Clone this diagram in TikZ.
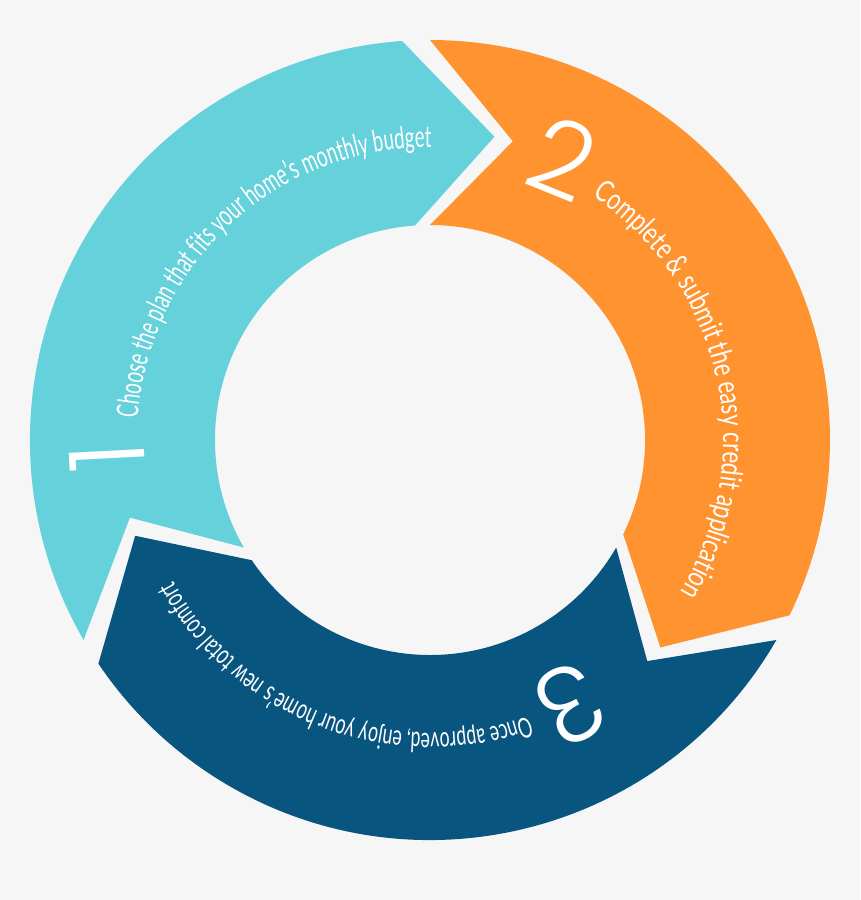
\documentclass[tikz,border=0pt]{standalone}
\usepackage{fontspec}
\usetikzlibrary{decorations.text}
\newfontfamily\bandA{Lato}[FakeStretch=0.62]
\newfontfamily\bandB{Lato}[FakeStretch=0.74]
\newfontfamily\bandC{Lato}[FakeStretch=0.63]
\newfontfamily\numfont{Poppins}[UprightFont={* Light}]
\definecolor{bgc}{HTML}{F6F6F6}
\definecolor{cyanband}{HTML}{65D1DA}
\definecolor{orangeband}{HTML}{FF9330}
\definecolor{navyband}{HTML}{08557F}
\tikzset{
  band/.style={draw=none},
  bignum/.style={text=white, font=\numfont\fontsize{105}{105}\selectfont, inner sep=0pt},
  bandtext/.style={decorate, decoration={text along path, text align=center, text color=white, #1}}
}
\begin{document}
\begin{tikzpicture}[x=1pt,y=1pt]
\useasboundingbox (-430,-460) rectangle (430,440);
\fill[bgc] (-430,-460) rectangle (430,440);
% step 1 (cyan)
\fill[cyanband] (210:400) arc[start angle=210, end angle=94, radius=400] -- (78:310) -- (94:215)
  arc[start angle=94, end angle=210, radius=215] -- (194.5:310) -- cycle;
% step 2 (orange)
\fill[orangeband] (90:400) arc[start angle=90, end angle=-26, radius=400] -- (-42:310) -- (-26:215)
  arc[start angle=-26, end angle=90, radius=215] -- (74.5:310) -- cycle;
% step 3 (navy)
\fill[navyband] (-30:400) arc[start angle=-30, end angle=-146, radius=400] -- (-162:310) -- (-146:215)
  arc[start angle=-146, end angle=-30, radius=215] -- (-45.5:310) -- cycle;
% numbers
\node[bignum, rotate=93] (n1) at (-323,-17) {1};
\node[bignum, rotate=-22] (n2) at (133,282) {2};
\node[bignum, rotate=-152] (n3) at (140,-265) {3};
% texts along the ring
\path[bandtext={text={|\bandA\fontsize{30}{30}\selectfont|Choose the plan that fits your home’s monthly budget}}]
  (192.7:293) arc[start angle=192.7, end angle=72.7, radius=293];
\path[bandtext={text={|\bandB\fontsize{30}{30}\selectfont|Complete {\&} submit the easy credit application}}]
  (72.5:293) arc[start angle=72.5, end angle=-47.5, radius=293];
\path[bandtext={text={|\bandC\fontsize{28}{28}\selectfont|Once approved, enjoy your home’s new total comfort}}]
  (-50.8:293) arc[start angle=-50.8, end angle=-170.8, radius=293];
\end{tikzpicture}
\end{document}
